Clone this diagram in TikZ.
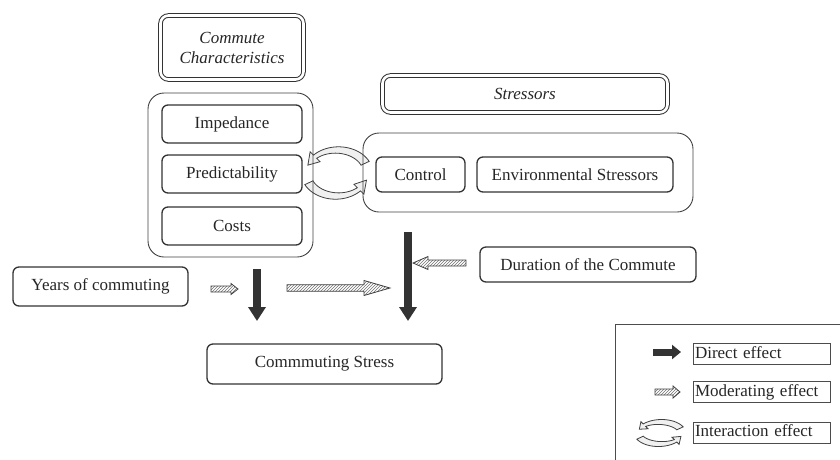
\documentclass[tikz,border=0pt]{standalone}
\usepackage{fontspec}
\setmainfont{Liberation Serif}
\usetikzlibrary{arrows.meta,patterns}
\newcommand\hatcharrow[6]{%
  \path[hatch] (#1,{#4-#5}) -- (#2,{#4-#5}) -- (#2,{#4-#6}) -- (#3,#4) -- (#2,{#4+#6}) -- (#2,{#4+#5}) -- (#1,{#4+#5}) -- cycle;}
\newcommand\interarrows[6]{%
  \filldraw[inter] plot[domain=-25:-135,samples=40,variable=\t] ({#1+(#3+#5*(0.5+0.5*(\t+135)/110))*cos(\t)},{#2+(#4+#5*(0.5+0.5*(\t+135)/110))*sin(\t)})
   -- ({#1+(#3+#6)*cos(-135)},{#2+(#4+#6)*sin(-135)})
   -- ({#1+#3*cos(-160)},{#2+#4*sin(-160)})
   -- ({#1+(#3-#6)*cos(-135)},{#2+(#4-#6)*sin(-135)})
   -- plot[domain=-135:-25,samples=40,variable=\t] ({#1+(#3-#5*(0.5+0.5*(\t+135)/110))*cos(\t)},{#2+(#4-#5*(0.5+0.5*(\t+135)/110))*sin(\t)}) -- cycle;
  \filldraw[inter] plot[domain=155:45,samples=40,variable=\t] ({#1+(#3+#5*(0.5+0.5*(\t-45)/110))*cos(\t)},{#2+(#4+#5*(0.5+0.5*(\t-45)/110))*sin(\t)})
   -- ({#1+(#3+#6)*cos(45)},{#2+(#4+#6)*sin(45)})
   -- ({#1+#3*cos(18)},{#2+#4*sin(18)})
   -- ({#1+(#3-#6)*cos(45)},{#2+(#4-#6)*sin(45)})
   -- plot[domain=45:155,samples=40,variable=\t] ({#1+(#3-#5*(0.5+0.5*(\t-45)/110))*cos(\t)},{#2+(#4-#5*(0.5+0.5*(\t-45)/110))*sin(\t)}) -- cycle;}
\begin{document}
\begin{tikzpicture}[x=1pt,y=-1pt,
  txt/.style={font=\fontsize{17}{20}\selectfont, text=black!85},
  box/.style={txt, draw=black!80, line width=1.3pt, rounded corners=6pt, inner sep=0pt},
  grp/.style={draw=black!75, line width=0.9pt, rounded corners=16pt},
  dbl/.style={txt, font=\fontsize{17}{20}\selectfont\itshape, draw=black!80, double=white, double distance=2.6pt, line width=1pt, rounded corners=8pt, inner sep=0pt, align=center},
  leglab/.style={txt, draw=black!70, line width=0.7pt, minimum width=137, minimum height=21, text width=133pt, align=left, inner xsep=2pt, inner ysep=0pt, text height=12pt, text depth=4pt},
  direct/.style={draw=black!80, line width=8pt, -{Triangle[length=14pt,width=17pt]}},
  hatch/.style={draw=black!75, line width=0.8pt, line join=miter, preaction={fill=white}, pattern=north east lines, pattern color=black!55},
  inter/.style={draw=black!75, line width=0.8pt, fill=black!6}
]
\useasboundingbox (0,0) rectangle (840,459);
\clip (0,0) rectangle (840,459);

% interaction arrows (behind boxes)
\interarrows{337}{173}{31}{23}{4.5}{7}

% groups
\node[grp, minimum width=165, minimum height=164] (grpL) at (230.5,175) {};
\node[grp, minimum width=330, minimum height=79] (grpR) at (528,172.5) {};

% titles
\node[dbl, minimum width=143, minimum height=64] (cc) at (232,47.5) {Commute\\Characteristics};
\node[dbl, minimum width=285, minimum height=37] (str) at (525,94) {Stressors};

% boxes
\node[box, minimum width=140, minimum height=38] (imp) at (232,124) {Impedance};
\node[box, minimum width=140, minimum height=38] (pred) at (232,174) {Predictability};
\node[box, minimum width=140, minimum height=38] (cost) at (232,226) {Costs};
\node[box, minimum width=89, minimum height=35] (ctrl) at (420.5,174.5) {Control};
\node[box, minimum width=196, minimum height=35] (env) at (575,174.5) {Environmental Stressors};
\node[box, minimum width=216, minimum height=35] (dur) at (588,264.5) {Duration of the Commute};
\node[box, minimum width=175, minimum height=39] (years) at (100.5,286.5) {Years of commuting};
\node[box, minimum width=235, minimum height=40] (stress) at (324.5,364) {Commmuting Stress};

% direct arrows
\coordinate (d1s) at (257,269);
\coordinate (d1e) at (257,321);
\coordinate (d2s) at (408,232);
\coordinate (d2e) at (408,321);
\draw[direct] (d1s) -- (d1e);
\draw[direct] (d2s) -- (d2e);

% moderating arrows
\hatcharrow{211}{231}{238}{289}{3}{5.5}
\hatcharrow{287}{364}{390}{288}{3.3}{7.5}
\hatcharrow{466}{428}{413}{263}{3}{6.5}

% legend
\draw[black!70, line width=0.8pt] (615,324) rectangle (850,470);
\coordinate (l1s) at (653,352);
\coordinate (l1e) at (681,352);
\draw[direct, line width=7pt, -{Triangle[length=9pt,width=14pt]}] (l1s) -- (l1e);
\hatcharrow{655}{673}{680}{392}{3}{6}
\interarrows{660}{433}{22}{11}{3.5}{5}
\node[leglab] (ld) at (761.5,354) {Direct effect};
\node[leglab] (lm) at (761.5,392) {Moderating effect};
\node[leglab] (li) at (761.5,432.5) {Interaction effect};
\end{tikzpicture}
\end{document}
